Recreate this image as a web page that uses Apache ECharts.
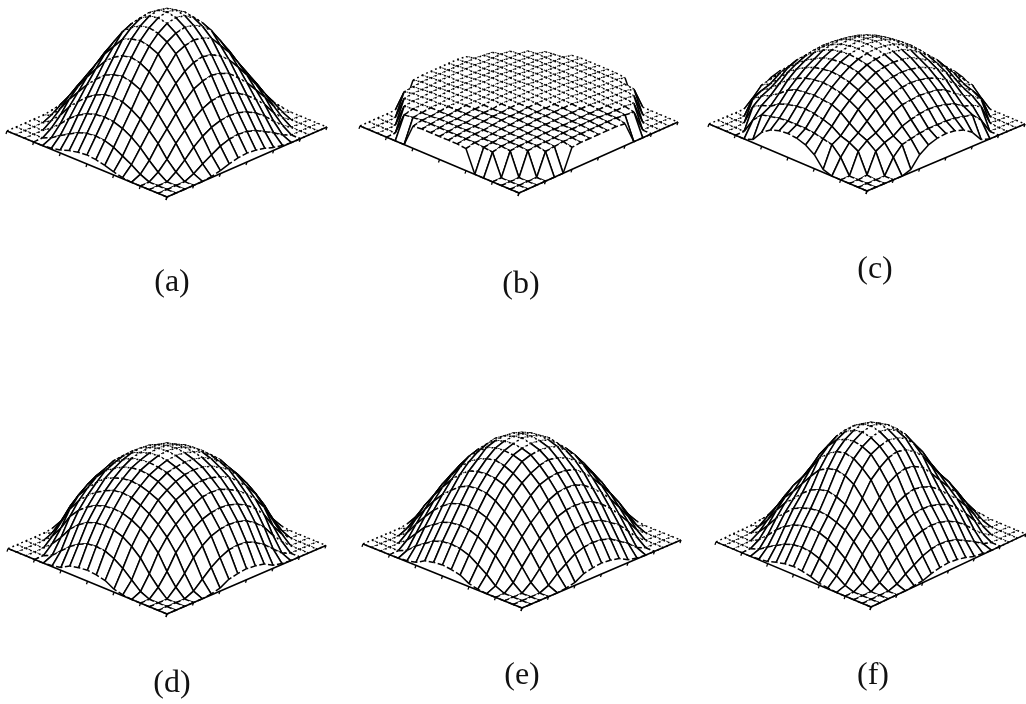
<!DOCTYPE html>
<html>
<head>
<meta charset="utf-8">
<style>html,body{margin:0;padding:0;background:#fff}#c{width:1026px;height:704px}</style>
<script src="https://cdn.jsdelivr.net/npm/echarts@6/dist/echarts.min.js"></script>
</head>
<body>
<div id="c"></div>
<script>
// Heights, one triangular table per panel.
// Row a, column b holds the height of the surface a and b grid steps from its centre.
const panelLabels = ['(a)', '(b)', '(c)', '(d)', '(e)', '(f)'];
const heightsA = [[117],[115,113],[109,107,102],[100,98,94,83],[87,85,80,72,61],[72,70,66,58,49,38],[55,54,50,44,36,27,15],[39,38,35,30,23,14,6,0],[24,23,20,15,10,4,0,0,0],[9,8,6,3,1,0,0,0,0,0]];
const heightsB = [[28],[28,28],[28,28,27],[27,27,27,27],[27,27,27,26,26],[26,26,26,26,25,25],[25,25,25,25,25,24,24],[25,25,25,24,24,24,23,0],[24,24,24,24,23,22,0,0,0],[23,23,23,22,0,0,0,0,0,0]];
const heightsC = [[80],[79,78],[77,76,74],[73,72,70,65],[67,66,64,60,55],[60,59,57,53,48,40],[51,50,49,45,38,32,28],[41,40,38,35,29,26,21,1],[29,29,28,26,24,15,0,0,0],[24,23,20,14,3,0,0,0,0,0]];
const heightsD = [[96],[95,94],[92,91,89],[88,87,84,79],[81,80,77,73,65],[73,72,68,63,56,47],[61,60,57,52,45,35,20],[48,47,44,38,30,18,8,0],[31,30,26,20,12,4,0,0,0],[11,10,8,3,1,0,0,0,0,0]];
const heightsE = [[104],[102,101],[99,98,95],[93,91,87,81],[83,82,79,72,63],[72,71,67,60,52,42],[58,57,54,48,40,30,19],[43,42,39,33,27,17,7,0],[28,27,24,18,12,4,0,0,0],[11,10,8,3,1,0,0,0,0,0]];
const heightsF = [[112],[110,108],[105,103,99],[97,95,89,81],[84,82,77,67,56],[67,65,61,54,45,37],[51,50,47,43,35,26,15],[38,37,34,29,22,13,5,0],[23,22,19,14,9,3,0,0,0],[8,7,5,2,1,0,0,0,0,0]];
const tables = [heightsA, heightsB, heightsC, heightsD, heightsE, heightsF];

const HALF = 9;
const TICK_STEP = 3;
// centre x, centre y, half width, half height, tilt, label x, label y
const layout = [
  [167, 129, 160, 68, 0.012, 172, 283],
  [519, 124, 159, 69, 0.012, 521, 285],
  [867, 124, 158, 67, 0.000, 875, 270],
  [167, 547, 159, 67, 0.010, 172, 684],
  [522, 542, 159, 66, 0.012, 522, 676],
  [871, 538, 155, 69, 0.025, 873, 676]
];
const Y_MIN = -90, Y_MAX = 100;

function heightAt(table, i, j) {
  const a = Math.max(Math.abs(i), Math.abs(j));
  const b = Math.min(Math.abs(i), Math.abs(j));
  return table[a][b];
}

const grids = [], xAxes = [], yAxes = [], series = [], graphics = [];
const noAxis = { show: false };

layout.forEach(function (L, p) {
  const cx = L[0], cy = L[1], hw = L[2], hh = L[3], tilt = L[4];
  const k = hh / (2 * HALF);
  const tiltPerStep = tilt * hw / (2 * HALF);
  grids.push({ left: cx - hw, width: 2 * hw, top: cy - Y_MAX, height: Y_MAX - Y_MIN, containLabel: false });
  xAxes.push({ gridIndex: p, type: 'value', min: -2 * HALF, max: 2 * HALF, ...noAxis });
  yAxes.push({ gridIndex: p, type: 'value', min: Y_MIN, max: Y_MAX, ...noAxis });

  const project = (i, j, z) => [i - j, -(i + j) * k + z + (i - j) * tiltPerStep];

  // base frame: the two front edges with their tick marks
  const frame = [];
  for (let s = -HALF; s <= HALF; s += TICK_STEP) {
    frame.push([s, HALF]);
    frame.push([HALF, s]);
  }
  series.push({
    type: 'line', xAxisIndex: p, yAxisIndex: p, silent: true, animation: false,
    symbol: 'none', lineStyle: { color: '#000', width: 1.6 },
    data: [project(-HALF, HALF, 0), project(HALF, HALF, 0), project(HALF, -HALF, 0)]
  });
  series.push({
    type: 'custom', xAxisIndex: p, yAxisIndex: p, silent: true, animation: false, clip: false,
    data: frame,
    renderItem: function (params, api) {
      const q = api.coord(project(api.value(0), api.value(1), 0));
      return { type: 'line', shape: { x1: q[0], y1: q[1], x2: q[0] - 1, y2: q[1] + 3 },
        style: { stroke: '#000', lineWidth: 1.3 } };
    }
  });

  // surface cells, back to front
  const cells = [];
  for (let i = -HALF; i < HALF; i++) {
    for (let j = -HALF; j < HALF; j++) {
      const t = tables[p];
      cells.push([i, j, heightAt(t, i, j), heightAt(t, i + 1, j), heightAt(t, i + 1, j + 1), heightAt(t, i, j + 1)]);
    }
  }
  cells.sort((m, n) => (m[0] + m[1]) - (n[0] + n[1]));

  series.push({
    type: 'custom', xAxisIndex: p, yAxisIndex: p, silent: true, animation: false, clip: false,
    progressive: 0,
    data: cells,
    renderItem: function (params, api) {
      const i = api.value(0), j = api.value(1);
      const corners = [
        api.coord(project(i, j, api.value(2))),
        api.coord(project(i + 1, j, api.value(3))),
        api.coord(project(i + 1, j + 1, api.value(4))),
        api.coord(project(i, j + 1, api.value(5)))
      ];
      const children = [{ type: 'polygon', shape: { points: corners }, style: { fill: '#fff', stroke: null } }];
      for (let e = 0; e < 4; e++) {
        const A = corners[e], B = corners[(e + 1) % 4];
        const slope = Math.abs(B[1] - A[1]) / Math.max(0.01, Math.abs(B[0] - A[0]));
        const dash = slope >= 0.72 ? null : (i + j >= 2 ? [5, 2.5] : [1.8, 3]);
        children.push({
          type: 'line',
          shape: { x1: A[0], y1: A[1], x2: B[0], y2: B[1] },
          style: { stroke: '#000', lineWidth: 1.5, lineDash: dash }
        });
      }
      return { type: 'group', children: children };
    }
  });

  graphics.push({
    type: 'text', x: L[5], y: L[6], silent: true,
    style: { text: panelLabels[p], fill: '#111', font: '32px "Liberation Serif"', textAlign: 'center', textVerticalAlign: 'middle' }
  });
});

const chart = echarts.init(document.getElementById('c'), null, { renderer: 'canvas', width: 1026, height: 704 });
chart.setOption({
  animation: false,
  backgroundColor: '#fff',
  grid: grids, xAxis: xAxes, yAxis: yAxes, series: series, graphic: graphics
});
</script>
</body>
</html>
